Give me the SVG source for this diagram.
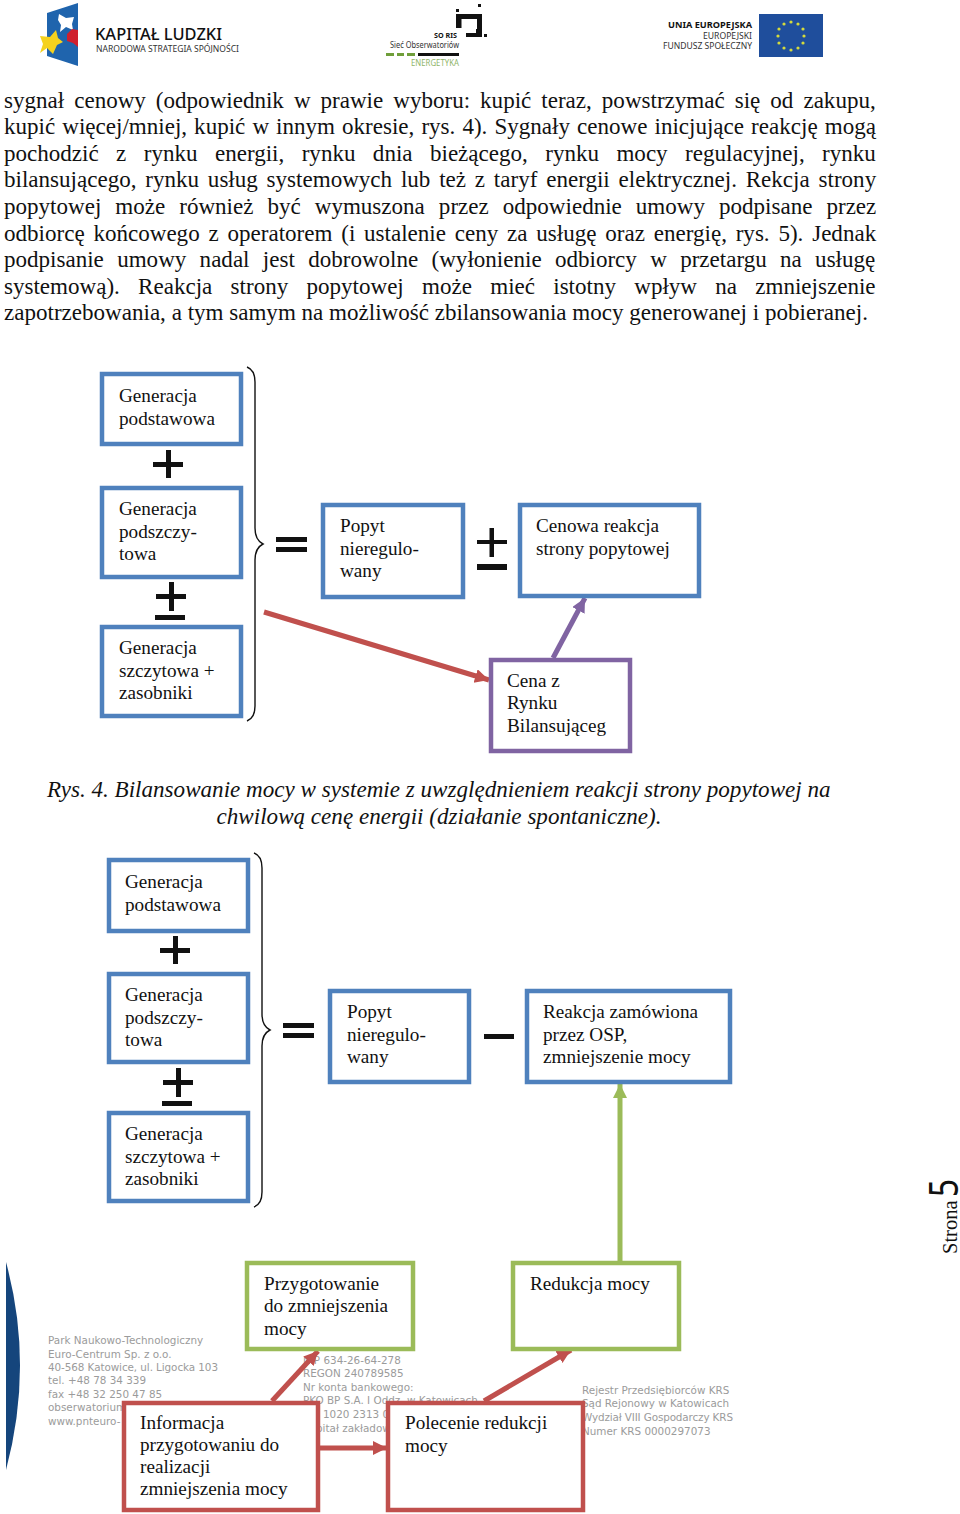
<svg xmlns="http://www.w3.org/2000/svg" width="960" height="1514" viewBox="0 0 960 1514">
<style>
text{font-family:"Liberation Serif","Times New Roman",serif;fill:#111}
.b{font-size:23.05px}
.c{font-size:23.1px;font-style:italic}
.n{font-size:19.2px}
.f{font-family:"DejaVu Sans",sans-serif;font-size:10.4px;fill:#9b9b9b}
.s{font-family:"Noto Sans","Liberation Sans",sans-serif}
.box{fill:#fff;stroke-width:4.5}
.bl{stroke:#4f81bd}.rd{stroke:#c0504d}.gr{stroke:#9bbb59}.pu{stroke:#8064a2}
.brace{fill:none;stroke:#111;stroke-width:1.4}
.sign{fill:#111}
.ln{fill:none;stroke-width:5}
</style>
<defs>
<marker id="ar" markerUnits="userSpaceOnUse" markerWidth="16" markerHeight="16" refX="14" refY="7" orient="auto"><path d="M0 0L14 7L0 14z" fill="#c0504d"/></marker>
<marker id="ag" markerUnits="userSpaceOnUse" markerWidth="16" markerHeight="16" refX="14" refY="7" orient="auto"><path d="M0 0L14 7L0 14z" fill="#9bbb59"/></marker>
<marker id="ap" markerUnits="userSpaceOnUse" markerWidth="16" markerHeight="16" refX="14" refY="7" orient="auto"><path d="M0 0L14 7L0 14z" fill="#8064a2"/></marker>
</defs>

<g id="logo-kl">
<path d="M47 13L78 3V66L47 56z" fill="#1f64ad"/>
<path d="M59 14L66 18L74 17L72 24L73 30L66 27L60 32L61 25L58 20z" fill="#fff"/>
<path d="M67 34L72 29L78 30V47L73 43L67 41z" fill="#d0202e"/>
<path d="M40 36L50 37L56 30L58 38L63 42L57 45L53 54L47 48L40 53L43 44z" fill="#f5d21e"/>
<text class="s" x="95" y="40" font-size="17" font-weight="500" textLength="127" lengthAdjust="spacingAndGlyphs">KAPITAŁ LUDZKI</text>
<text class="s" x="96" y="52" font-size="9.8" textLength="143" lengthAdjust="spacingAndGlyphs" style="fill:#333">NARODOWA STRATEGIA SPÓJNOŚCI</text>
</g>
<g id="logo-soris">
<path d="M456 9h3v3h-3zM478 4h3v3h-3zM484 34h3v3h-3z" fill="#111"/>
<path d="M456 14h26v16h-5V19h-15.500V28h-5.500z" fill="#111"/>
<path d="M466 33h10v-4h6v8h-16z" fill="#111"/>
<text class="s" x="434" y="38" font-size="7.500" font-weight="700" textLength="23" lengthAdjust="spacingAndGlyphs">SO RIS</text>
<text class="s" x="390" y="48" font-size="9.800" textLength="69" lengthAdjust="spacingAndGlyphs" style="fill:#333">Sieć Obserwatoriów</text>
<path d="M386 53h8v3h-8zM397 53h7v3h-7zM407 53h8v3h-8z" fill="#6f9e3a"/>
<rect x="418" y="53" width="41" height="3" fill="#111"/>
<text class="s" x="411" y="66" font-size="8.600" style="fill:#8fb56a" textLength="48" lengthAdjust="spacingAndGlyphs">ENERGETYKA</text>
</g>
<g id="logo-eu">
<text class="s" x="668" y="27.500" font-size="9.600" font-weight="700" textLength="84" lengthAdjust="spacingAndGlyphs">UNIA EUROPEJSKA</text>
<text class="s" x="703" y="38.500" font-size="9.600" textLength="49" lengthAdjust="spacingAndGlyphs" style="fill:#333">EUROPEJSKI</text>
<text class="s" x="663" y="48.700" font-size="9.600" textLength="89" lengthAdjust="spacingAndGlyphs" style="fill:#333">FUNDUSZ SPOŁECZNY</text>
<rect x="759" y="14" width="64" height="43" fill="#1f4e9c"/>
<g fill="#d4da3c"><circle cx="791" cy="22" r="1.600"/><circle cx="798" cy="24" r="1.600"/><circle cx="803" cy="29" r="1.600"/><circle cx="804" cy="36" r="1.600"/><circle cx="803" cy="43" r="1.600"/><circle cx="798" cy="48" r="1.600"/><circle cx="791" cy="50" r="1.600"/><circle cx="784" cy="48" r="1.600"/><circle cx="779" cy="43" r="1.600"/><circle cx="778" cy="36" r="1.600"/><circle cx="779" cy="29" r="1.600"/><circle cx="784" cy="24" r="1.600"/></g>
</g>

<g id="body-text">
<text class="b" x="4" y="108" word-spacing="4.25">sygnał cenowy (odpowiednik w prawie wyboru: kupić teraz, powstrzymać się od zakupu,</text>
<text class="b" x="4" y="134" word-spacing="1.3">kupić więcej/mniej, kupić w innym okresie, rys. 4). Sygnały cenowe inicjujące reakcję mogą</text>
<text class="b" x="4" y="161" word-spacing="11.65">pochodzić z rynku energii, rynku dnia bieżącego, rynku mocy regulacyjnej, rynku</text>
<text class="b" x="4" y="187" word-spacing="3.05">bilansującego, rynku usług systemowych lub też z taryf energii elektrycznej. Rekcja strony</text>
<text class="b" x="4" y="214" word-spacing="8.25">popytowej może również być wymuszona przez odpowiednie umowy podpisane przez</text>
<text class="b" x="4" y="241" word-spacing="3.03">odbiorcę końcowego z operatorem (i ustalenie ceny za usługę oraz energię, rys. 5). Jednak</text>
<text class="b" x="4" y="267" word-spacing="7.55">podpisanie umowy nadal jest dobrowolne (wyłonienie odbiorcy w przetargu na usługę</text>
<text class="b" x="4" y="294" word-spacing="12.5">systemową). Reakcja strony popytowej może mieć istotny wpływ na zmniejszenie</text>
<text class="b" x="4" y="320">zapotrzebowania, a tym samym na możliwość zbilansowania mocy generowanej i pobieranej.</text>
</g>

<g id="footer">
<path d="M6 1262Q34 1365 6 1470z" fill="#15457c"/>
<text class="f" x="48" y="1344">Park Naukowo-Technologiczny</text>
<text class="f" x="48" y="1358">Euro-Centrum Sp. z o.o.</text>
<text class="f" x="48" y="1371" textLength="170">40-568 Katowice, ul. Ligocka 103</text>
<text class="f" x="48" y="1384">tel. +48 78 34 339</text>
<text class="f" x="48" y="1398">fax +48 32 250 47 85</text>
<text class="f" x="48" y="1411">obserwatorium</text>
<text class="f" x="48" y="1425">www.pnteuro-</text>
<text class="f" x="303" y="1364">NIP 634-26-64-278</text>
<text class="f" x="303" y="1377">REGON 240789585</text>
<text class="f" x="303" y="1391">Nr konta bankowego:</text>
<text class="f" x="303" y="1404">PKO BP S.A. I Oddz. w Katowicach</text>
<text class="f" x="323" y="1418">1020 2313 00</text>
<text class="f" x="303" y="1432">Kapitał zakładowy</text>
<text class="f" x="582" y="1394">Rejestr Przedsiębiorców KRS</text>
<text class="f" x="582" y="1407">Sąd Rejonowy w Katowicach</text>
<text class="f" x="582" y="1421" textLength="151">Wydział VIII Gospodarczy KRS</text>
<text class="f" x="582" y="1435">Numer KRS 0000297073</text>
</g>

<g id="connectors">
<path class="ln rd" d="M264 612L489 680" marker-end="url(#ar)"/>
<path class="ln pu" d="M553 658L585 598" marker-end="url(#ap)"/>
<path class="ln gr" d="M620 1261V1084" marker-end="url(#ag)"/>
<path class="ln rd" d="M272 1401L318 1351" marker-end="url(#ar)"/>
<path class="ln rd" d="M320 1448H387" marker-end="url(#ar)"/>
<path class="ln rd" d="M484 1401L571 1350" marker-end="url(#ar)"/>
</g>

<g id="signs">
<path class="brace" d="M247 367Q255 370 255 382V528Q255 540 263 544Q255 548 255 560V706Q255 718 247 721"/>
<path class="brace" d="M254 853Q262 856 262 868V1014Q262 1026 270 1030Q262 1034 262 1046V1192Q262 1204 254 1207"/>
<path class="sign" d="M153 462h30v5h-30zM166 450h5v28h-5z"/>
<path class="sign" d="M156 594h30v5h-30zM169 582h5v29h-5zM155 615h30v5h-30z"/>
<path class="sign" d="M276 537h31v5h-31zM276 547h31v5h-31z"/>
<path class="sign" d="M477 540h30v4h-30zM489.500 528h4.500v29h-4.500zM477 564h30v6h-30z"/>
<path class="sign" d="M160 948h30v5h-30zM173 936h5v28h-5z"/>
<path class="sign" d="M163 1080h30v5h-30zM176 1068h5v29h-5zM162 1101h30v5h-30z"/>
<path class="sign" d="M283 1023h31v5h-31zM283 1033h31v5h-31z"/>
<path class="sign" d="M484 1034h30v5h-30z"/>
</g>

<g id="n1"><rect class="box bl" x="102" y="374" width="139" height="70"/><text class="n" x="119" y="402">Generacja</text><text class="n" x="119" y="425">podstawowa</text></g>
<g id="n2"><rect class="box bl" x="102" y="488" width="139" height="89"/><text class="n" x="119" y="515">Generacja</text><text class="n" x="119" y="538">podszczy-</text><text class="n" x="119" y="560">towa</text></g>
<g id="n3"><rect class="box bl" x="102" y="627" width="139" height="89"/><text class="n" x="119" y="654">Generacja</text><text class="n" x="119" y="677">szczytowa +</text><text class="n" x="119" y="699">zasobniki</text></g>
<g id="n4"><rect class="box bl" x="323" y="505" width="140" height="92"/><text class="n" x="340" y="532">Popyt</text><text class="n" x="340" y="555">nieregulo-</text><text class="n" x="340" y="577">wany</text></g>
<g id="n5"><rect class="box bl" x="520" y="505" width="179" height="91"/><text class="n" x="536" y="532">Cenowa reakcja</text><text class="n" x="536" y="555">strony popytowej</text></g>
<g id="n6"><rect class="box pu" x="491" y="660" width="139" height="91"/><text class="n" x="507" y="687">Cena z</text><text class="n" x="507" y="709">Rynku</text><text class="n" x="507" y="732">Bilansująceg</text></g>

<g id="caption">
<text class="c" x="47" y="797">Rys. 4. Bilansowanie mocy w systemie z uwzględnieniem reakcji strony popytowej na</text>
<text class="c" x="439" y="824" text-anchor="middle">chwilową cenę energii (działanie spontaniczne).</text>
</g>

<g id="m1"><rect class="box bl" x="109" y="860" width="139" height="71"/><text class="n" x="125" y="888">Generacja</text><text class="n" x="125" y="911">podstawowa</text></g>
<g id="m2"><rect class="box bl" x="109" y="974" width="139" height="88"/><text class="n" x="125" y="1001">Generacja</text><text class="n" x="125" y="1024">podszczy-</text><text class="n" x="125" y="1046">towa</text></g>
<g id="m3"><rect class="box bl" x="109" y="1113" width="139" height="88"/><text class="n" x="125" y="1140">Generacja</text><text class="n" x="125" y="1163">szczytowa +</text><text class="n" x="125" y="1185">zasobniki</text></g>
<g id="m4"><rect class="box bl" x="330" y="991" width="139" height="91"/><text class="n" x="347" y="1018">Popyt</text><text class="n" x="347" y="1041">nieregulo-</text><text class="n" x="347" y="1063">wany</text></g>
<g id="m5"><rect class="box bl" x="527" y="991" width="203" height="91"/><text class="n" x="543" y="1018">Reakcja zamówiona</text><text class="n" x="543" y="1041">przez OSP,</text><text class="n" x="543" y="1063">zmniejszenie mocy</text></g>
<g id="m6"><rect class="box gr" x="247" y="1263" width="166" height="86"/><text class="n" x="264" y="1290">Przygotowanie</text><text class="n" x="264" y="1312">do zmniejszenia</text><text class="n" x="264" y="1335">mocy</text></g>
<g id="m7"><rect class="box gr" x="513" y="1263" width="166" height="86"/><text class="n" x="530" y="1290">Redukcja mocy</text></g>
<g id="m8"><rect class="box rd" x="124" y="1403" width="194" height="107"/><text class="n" x="140" y="1429">Informacja</text><text class="n" x="140" y="1451">przygotowaniu do</text><text class="n" x="140" y="1473">realizacji</text><text class="n" x="140" y="1495">zmniejszenia mocy</text></g>
<g id="m9"><rect class="box rd" x="388" y="1403" width="195" height="107"/><text class="n" x="405" y="1429">Polecenie redukcji</text><text class="n" x="405" y="1452">mocy</text></g>

<g id="page-number">
<text transform="translate(957 1254) rotate(-90)" font-size="20.5">Strona</text>
<text class="s" transform="translate(958 1197) rotate(-90)" font-size="40" textLength="18" lengthAdjust="spacingAndGlyphs">5</text>
</g>
</svg>
